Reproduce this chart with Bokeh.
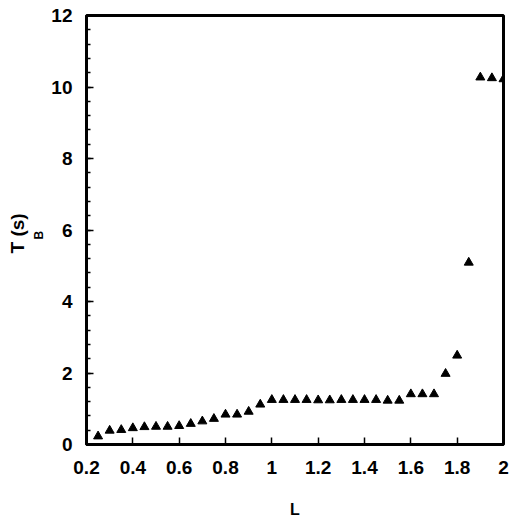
from bokeh.plotting import figure
from bokeh.models import Range1d, FixedTicker, Title, ColumnDataSource
from bokeh.embed import file_html
from bokeh.resources import INLINE

# data
L = [0.25, 0.30, 0.35, 0.40, 0.45, 0.50, 0.55, 0.60, 0.65, 0.70, 0.75, 0.80,
     0.85, 0.90, 0.95, 1.00, 1.05, 1.10, 1.15, 1.20, 1.25, 1.30, 1.35, 1.40,
     1.45, 1.50, 1.55, 1.60, 1.65, 1.70, 1.75, 1.80, 1.85, 1.90, 1.95, 2.00]
TB = [0.23, 0.39, 0.41, 0.46, 0.49, 0.50, 0.50, 0.52, 0.58, 0.65, 0.72, 0.84,
      0.84, 0.92, 1.12, 1.25, 1.25, 1.25, 1.25, 1.24, 1.24, 1.25, 1.25, 1.25,
      1.25, 1.23, 1.23, 1.41, 1.41, 1.41, 1.98, 2.49, 5.09, 10.27, 10.25, 10.22]
x_ticks = [0.2, 0.4, 0.6, 0.8, 1.0, 1.2, 1.4, 1.6, 1.8, 2.0]
x_tick_labels = ["0.2", "0.4", "0.6", "0.8", "1", "1.2", "1.4", "1.6", "1.8", "2"]
y_ticks = [0, 2, 4, 6, 8, 10, 12]
y_minor = [0.4 * i for i in range(31)]

FONT = "Liberation Sans"

p = figure(width=520, height=518, output_backend="svg", toolbar_location=None,
           x_range=Range1d(0.2, 2.0), y_range=Range1d(0, 12),
           frame_width=417, frame_height=429,
           min_border_left=86, min_border_right=17, min_border_top=15, min_border_bottom=74)
p.background_fill_color = "white"
p.border_fill_color = "white"
p.outline_line_color = "black"
p.outline_line_width = 3
p.xgrid.visible = False
p.ygrid.visible = False

src = ColumnDataSource(dict(L=L, TB=TB))
p.scatter("L", "TB", source=src, marker="triangle", size=9,
          fill_color="black", line_color="black")

xa = p.xaxis[0]
xa.ticker = FixedTicker(ticks=x_ticks)
xa.major_label_overrides = {t: s for t, s in zip(x_ticks, x_tick_labels)}
xa.major_tick_in = 7
xa.major_tick_out = 0
xa.minor_tick_in = 0
xa.minor_tick_out = 0
xa.axis_line_width = 3
xa.major_tick_line_width = 1.5
xa.major_label_standoff = 16
xa.major_label_text_font = FONT
xa.major_label_text_font_style = "bold"
xa.major_label_text_font_size = "19px"
xa.major_label_text_color = "black"
xa.axis_label = "L"
xa.axis_label_text_font = FONT
xa.axis_label_text_font_style = "bold"
xa.axis_label_text_font_size = "16px"
xa.axis_label_text_color = "black"
xa.axis_label_standoff = 24

ya = p.yaxis[0]
ya.ticker = FixedTicker(ticks=y_ticks, minor_ticks=y_minor)
ya.major_tick_in = 7
ya.major_tick_out = 0
ya.minor_tick_in = 4
ya.minor_tick_out = 0
ya.axis_line_width = 3
ya.major_tick_line_width = 1.5
ya.minor_tick_line_width = 1.5
ya.major_label_standoff = 14
ya.major_label_text_font = FONT
ya.major_label_text_font_style = "bold"
ya.major_label_text_font_size = "19px"
ya.major_label_text_color = "black"

# y-axis title  T_B(s), vertical, built from two titles in the left panel
tb = Title(text="B", align="left", offset=205, standoff=5,
           text_font=FONT, text_font_style="bold", text_font_size="12px",
           text_color="black")
tt = Title(text="T   (s)", align="left", offset=191, standoff=0,
           text_font=FONT, text_font_style="bold", text_font_size="19px",
           text_color="black")
p.add_layout(tb, "left")
p.add_layout(tt, "left")

open("out.html", "w").write(file_html(p, INLINE))
